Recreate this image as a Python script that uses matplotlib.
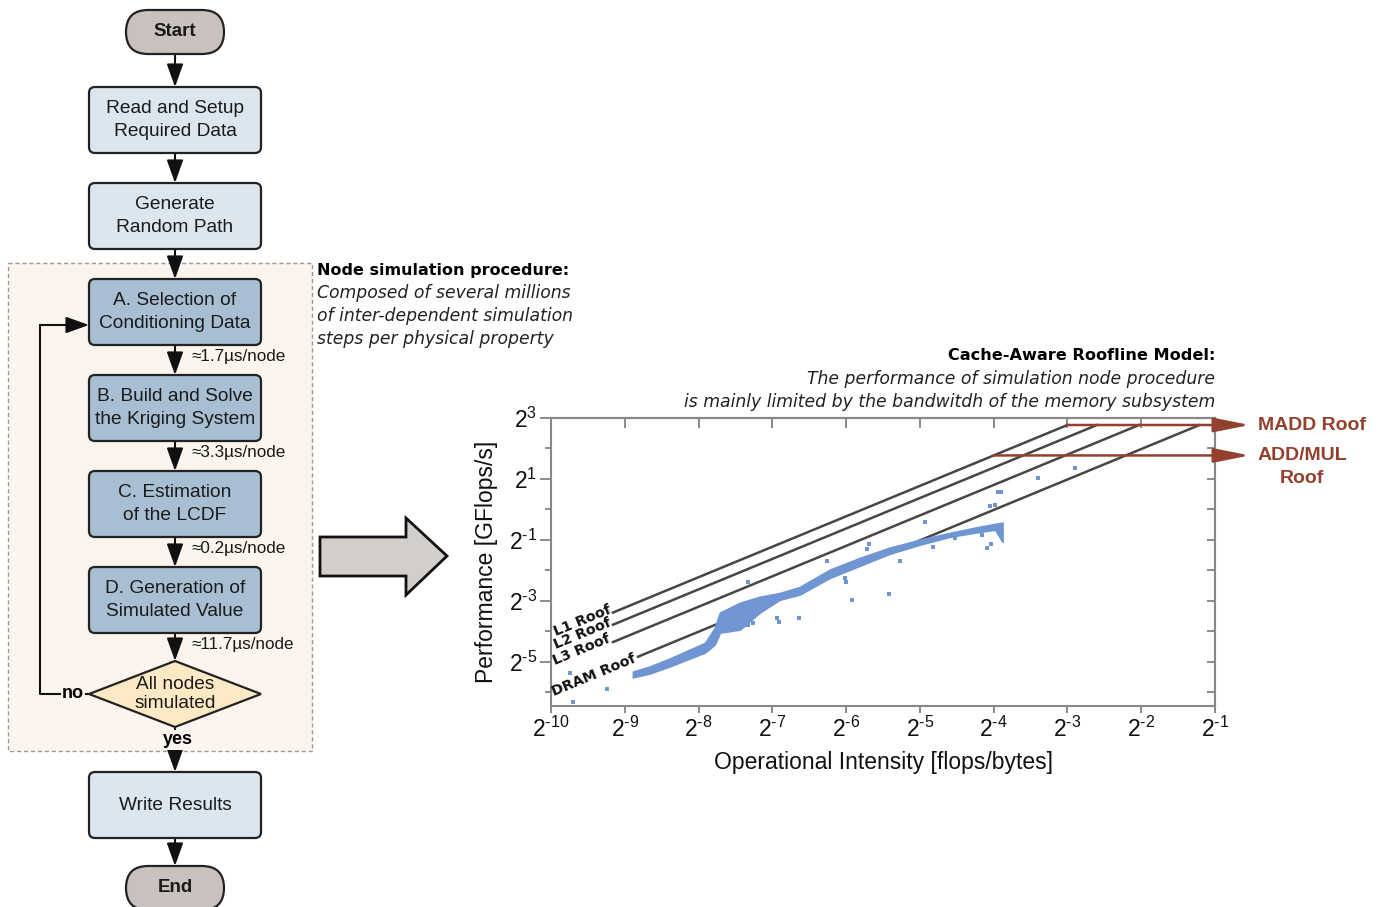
import numpy as np
import matplotlib.pyplot as plt
from matplotlib.patches import FancyBboxPatch, Polygon, Rectangle
from matplotlib.ticker import NullLocator, FixedLocator

plt.rcParams['font.family'] = ['Liberation Sans', 'DejaVu Sans']
plt.rcParams['mathtext.fontset'] = 'custom'
plt.rcParams['mathtext.rm'] = 'Liberation Sans'
plt.rcParams['mathtext.it'] = 'Liberation Sans:italic'
plt.rcParams['mathtext.bf'] = 'Liberation Sans:bold'

# ---- textos del diagrama de flujo ----
pasos_inicio = ['Read and Setup\nRequired Data', 'Generate\nRandom Path']
pasos_nodo = ['A. Selection of\nConditioning Data', 'B. Build and Solve\nthe Kriging System',
              'C. Estimation\nof the LCDF', 'D. Generation of\nSimulated Value']
tiempos_nodo = ['≈1.7µs/node', '≈3.3µs/node', '≈0.2µs/node', '≈11.7µs/node']

# ---- roofline (exponentes en base 2) ----
techos = ['L1 Roof', 'L2 Roof', 'L3 Roof', 'DRAM Roof']
techos_bw = [5.77, 5.37, 4.80, 3.98]          # log2 ancho de banda
techos_inicio = [-9.16, -9.16, -9.16, -8.82]  # log2 intensidad donde empieza la linea
techo_madd = 2.77
techo_addmul = 1.77

# banda densa de puntos medidos: intensidad, borde inferior y superior
banda_oi = [-8.89, -8.66, -8.39, -8.12, -7.91, -7.78, -7.71, -7.44, -7.17, -6.90,
            -6.63, -6.22, -5.81, -5.41, -5.00, -4.59, -4.19, -3.98, -3.88]
banda_lo = [-5.52, -5.39, -5.16, -4.90, -4.70, -4.44, -4.05, -3.95, -3.39, -2.97,
            -2.80, -2.25, -1.85, -1.46, -1.16, -0.90, -0.74, -0.67, -1.07]
banda_hi = [-5.33, -5.16, -4.90, -4.61, -4.38, -3.89, -3.39, -3.07, -2.87, -2.75,
            -2.55, -1.98, -1.59, -1.26, -1.00, -0.77, -0.57, -0.48, -0.44]

# puntos sueltos
sueltos_oi = [-9.74, -9.24, -9.70, -7.33, -7.33, -7.26, -6.94, -6.91, -6.64, -6.26,
              -6.02, -6.00, -5.92, -5.69, -5.72, -5.42, -5.27, -4.93, -4.82, -4.53,
              -4.16, -4.09, -4.04, -4.05, -3.98, -3.94, -3.90, -3.40, -2.90]
sueltos_perf = [-5.36, -5.89, -6.34, -2.38, -3.79, -3.72, -3.56, -3.69, -3.56, -1.69,
                -2.25, -2.38, -2.97, -1.13, -1.30, -2.77, -1.69, -0.41, -1.23, -0.93,
                -0.84, -1.26, -1.13, 0.11, 0.15, 0.57, 0.57, 1.03, 1.36]

W, H = 1383, 907
fig = plt.figure(figsize=(W / 100, H / 100), dpi=100)

# lienzo en pixeles para el diagrama
cv = fig.add_axes([0, 0, 1, 1])
cv.set_xlim(0, W)
cv.set_ylim(H, 0)
cv.axis('off')

# zona punteada del procedimiento por nodo
cv.add_patch(Rectangle((8, 263), 304, 488, fc='#fcf5ee', ec='#9a9a9a', lw=1, ls=(0, (3, 2))))


def caja(y0, texto, fc):
    cv.add_patch(FancyBboxPatch((89, y0), 172, 66, boxstyle='round,pad=0,rounding_size=6',
                                fc=fc, ec='#222222', lw=1.6, zorder=3))
    cv.text(175, y0 + 33, texto, ha='center', va='center', fontsize=13.8,
            linespacing=1.45, color='#1a1a1a', zorder=4)


def pastilla(y0, texto):
    cv.add_patch(FancyBboxPatch((126, y0), 98, 44, boxstyle='round,pad=0,rounding_size=22',
                                fc='#c9c1bd', ec='#222222', lw=1.6, zorder=3))
    cv.text(175, y0 + 22, texto, ha='center', va='center', fontsize=13.5,
            weight='bold', color='#1a1a1a', zorder=4)


def flecha(x0, y0, x1, y1):
    cv.annotate('', xy=(x1, y1), xytext=(x0, y0),
                arrowprops=dict(arrowstyle='-|>,head_length=0.7,head_width=0.25',
                                color='#111111', lw=1.5, shrinkA=0, shrinkB=0,
                                mutation_scale=20), zorder=2)


pastilla(10, 'Start')
for y0, t in zip([87, 183], pasos_inicio):
    caja(y0, t, '#dce6ef')
for y0, t in zip([279, 375, 471, 567], pasos_nodo):
    caja(y0, t, '#a8bfd3')
caja(772, 'Write Results', '#dce6ef')
pastilla(866, 'End')

for ya, yb in [(54, 87), (153, 183), (249, 279), (344, 375), (440, 471), (536, 567),
               (632, 661), (727, 772), (838, 866)]:
    flecha(175, ya, 175, yb)

for yt, t in zip([356, 452, 548, 644], tiempos_nodo):
    cv.text(192, yt, t, ha='left', va='center', fontsize=12.3, color='#1a1a1a')

# rombo de decision
cv.add_patch(Polygon([(89, 694), (175, 661), (261, 694), (175, 727)], closed=True,
                     fc='#fde9c3', ec='#222222', lw=1.6, zorder=3))
cv.text(175, 694, 'All nodes\nsimulated', ha='center', va='center', fontsize=13.8,
        linespacing=1.1, color='#1a1a1a', zorder=4)

# bucle "no"
cv.plot([89, 40, 40], [694, 694, 325], color='#111111', lw=1.5)
flecha(40, 325, 89, 325)
cv.text(73, 694, 'no', ha='center', va='center', fontsize=13, weight='bold',
        bbox=dict(fc='#fcf5ee', ec='none', pad=1), zorder=5)
cv.text(178, 740, 'yes', ha='center', va='center', fontsize=13, weight='bold',
        bbox=dict(fc='#fcf5ee', ec='none', pad=1), zorder=5)

# flecha grande
cv.add_patch(Polygon([(320, 537), (406, 537), (406, 518), (447, 556), (406, 595), (406, 576),
                      (320, 576)], closed=True, fc='#d4cecb', ec='#111111', lw=2))

# textos explicativos
cv.text(317, 270, 'Node simulation procedure:', ha='left', va='center', fontsize=11.5,
        weight='bold', family='DejaVu Sans')
for yt, t in zip([293, 316, 339], ['Composed of several millions',
                                    'of inter-dependent simulation',
                                    'steps per physical property']):
    cv.text(317, yt, t, ha='left', va='center', fontsize=12.4, style='italic',
            family='DejaVu Sans', color='#222222')

cv.text(1215, 356, 'Cache-Aware Roofline Model:', ha='right', va='center', fontsize=11.6,
        weight='bold', family='DejaVu Sans')
cv.text(1215, 379, 'The performance of simulation node procedure', ha='right', va='center',
        fontsize=12.4, style='italic', family='DejaVu Sans', color='#222222')
cv.text(1215, 402, 'is mainly limited by the bandwitdh of the memory subsystem', ha='right',
        va='center', fontsize=12.4, style='italic', family='DejaVu Sans', color='#222222')

rojo = '#93412e'
cv.text(1258, 425, 'MADD Roof', ha='left', va='center', fontsize=14, weight='bold', color=rojo)
cv.text(1302, 467, 'ADD/MUL\nRoof', ha='center', va='center', fontsize=14, weight='bold',
        color=rojo, linespacing=1.45)

# ---- grafico roofline ----
ax = fig.add_axes([551 / W, 1 - 706 / H, (1215 - 551) / W, (706 - 418) / H])
ax.set_facecolor('white')
ax.set_xscale('log', base=2)
ax.set_yscale('log', base=2)
ax.set_xlim(2.0 ** -10, 2.0 ** -1)
ax.set_ylim(2.0 ** -6.46, 2.0 ** 3)

gris = '#4a4545'
for nombre, bw, x0 in zip(techos, techos_bw, techos_inicio):
    x1 = techo_madd - bw
    ax.plot(np.exp2([x0, x1]), np.exp2([bw + x0, techo_madd]), color=gris, lw=1.8, zorder=2)

azul = '#6f96d3'
ax.fill_between(np.exp2(banda_oi), np.exp2(banda_lo), np.exp2(banda_hi),
                color=azul, lw=1.2, zorder=3)
ax.scatter(np.exp2(sueltos_oi), np.exp2(sueltos_perf), s=10, marker='s', color=azul,
           lw=0, zorder=3)

# techos de computo con flecha
for nivel in [techo_madd, techo_addmul]:
    x_cresta = nivel - max(techos_bw)
    ax.annotate('', xy=(2.0 ** -0.53, 2.0 ** nivel), xytext=(2.0 ** x_cresta, 2.0 ** nivel),
                arrowprops=dict(arrowstyle='-|>,head_length=1.1,head_width=0.22', color=rojo,
                                lw=1.8, shrinkA=0, shrinkB=0, mutation_scale=20),
                annotation_clip=False, zorder=4)

# etiquetas inclinadas de los techos
angulo = np.degrees(np.arctan(30.5 / 73.8))
for nombre, (ex, ey) in zip(techos, [(-9.57, -3.66), (-9.57, -4.08), (-9.59, -4.61),
                                     (-9.42, -5.46)]):
    ax.text(2.0 ** ex, 2.0 ** ey, nombre, rotation=angulo, rotation_mode='anchor',
            ha='center', va='center', fontsize=10.3, weight='bold', family='DejaVu Sans',
            color='#111111', zorder=5)


def etiqueta(k):
    return r'$2^{\text{%d}}$' % k


xt = [2.0 ** k for k in range(-10, 0)]
yt = [2.0 ** k for k in range(-5, 4, 2)]
yt_men = [2.0 ** k for k in range(-6, 4, 2)]
ax.set_xticks(xt, [etiqueta(k) for k in range(-10, 0)])
ax.set_yticks(yt, [etiqueta(k) for k in range(-5, 4, 2)])
ax.xaxis.set_minor_locator(NullLocator())
ax.yaxis.set_minor_locator(FixedLocator(yt_men))
ax.tick_params(which='both', direction='out', width=1.2, color='#777777', labelsize=16.5,
               labelcolor='#111111')
ax.tick_params(axis='x', length=5, pad=3)
ax.tick_params(axis='y', which='major', length=8, pad=2)
ax.tick_params(axis='y', which='minor', length=4.5, labelleft=False)

for sp in ax.spines.values():
    sp.set_color('#888888')
    sp.set_linewidth(1.5)

sx = ax.secondary_xaxis('top')
sx.set_xticks(xt)
sx.xaxis.set_minor_locator(NullLocator())
sx.tick_params(direction='in', length=7, width=1.2, color='#777777', labeltop=False)
sx.spines['top'].set_color('#888888')
sx.spines['top'].set_linewidth(1.5)
sy = ax.secondary_yaxis('right')
sy.set_yticks([2.0 ** k for k in range(-6, 4)])
sy.yaxis.set_minor_locator(NullLocator())
sy.tick_params(direction='in', length=6, width=1.2, color='#777777', labelright=False)
sy.spines['right'].set_color('#888888')
sy.spines['right'].set_linewidth(1.5)

ax.set_xlabel('Operational Intensity [flops/bytes]', fontsize=16.5, color='#111111', va='center')
ax.set_ylabel('Performance [GFlops/s]', fontsize=16.5, color='#111111', va='center')
ax.xaxis.set_label_coords(0.5, -(762 - 706) / 288)
ax.yaxis.set_label_coords(-(551 - 487) / 664, 0.5)

fig.savefig('out.png', dpi=100)
